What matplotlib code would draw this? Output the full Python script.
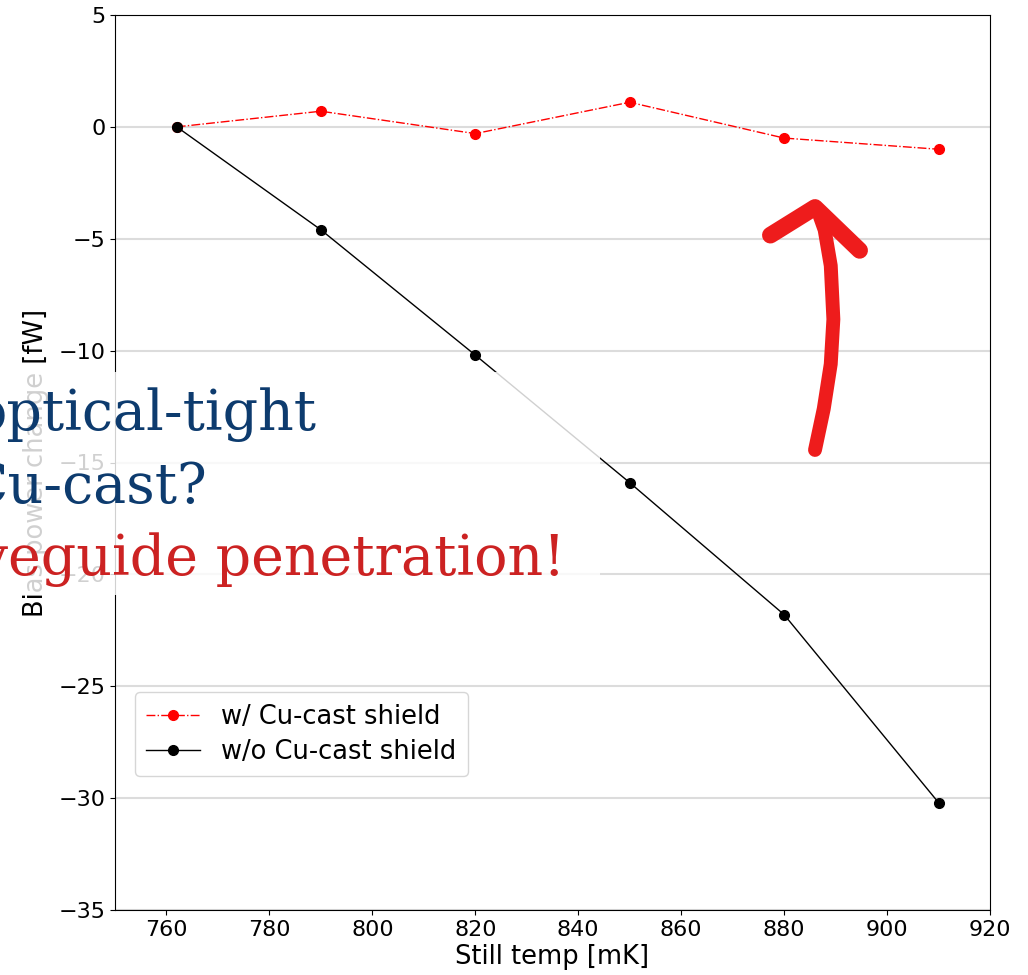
import matplotlib.pyplot as plt
from matplotlib.patches import Rectangle

# datos
still_temp = [762, 790, 820, 850, 880, 910]
con_cu = [0.0, 0.7, -0.3, 1.1, -0.5, -1.0]
sin_cu = [0.0, -4.6, -10.2, -15.9, -21.8, -30.2]

xticks = [760, 780, 800, 820, 840, 860, 880, 900, 920]
yticks = [5, 0, -5, -10, -15, -20, -25, -30, -35]

plt.rcParams['font.family'] = ['DejaVu Sans']

fig = plt.figure(figsize=(10.28, 9.75), dpi=100)
ax = fig.add_axes([115 / 1028, 1 - 910 / 975, 875 / 1028, 895 / 975])

ax.plot(still_temp, con_cu, '-.', color='red', marker='o', markersize=7,
        linewidth=1.0, label='w/ Cu-cast shield', zorder=3)
ax.plot(still_temp, sin_cu, '-', color='black', marker='o', markersize=7,
        linewidth=1.0, label='w/o Cu-cast shield', zorder=3)

ax.set_xlim(750, 920)
ax.set_ylim(-35, 5)
ax.set_xticks(xticks)
ax.set_yticks(yticks)
ax.tick_params(labelsize=16)
ax.yaxis.grid(True, color='#dcdcdc', linewidth=1.5)
ax.set_axisbelow(True)
ax.set_xlabel('Still temp [mK]', fontsize=18.5, labelpad=3)
ax.set_ylabel('Bias power change [fW]', fontsize=18.5, labelpad=7)

ax.legend(loc='lower left', bbox_to_anchor=(0.008, 0.135), fontsize=18.5,
          handlelength=2.1, borderpad=0.45, labelspacing=0.35)

# caja blanca semitransparente con el texto superpuesto
fig.add_artist(Rectangle((0, 1 - 595 / 975), 600 / 1028, 223 / 975,
                         transform=fig.transFigure, facecolor='white',
                         alpha=0.82, edgecolor='none', zorder=5))
fig.text(316 / 1028, 1 - 415 / 975, 'optical-tight', ha='right', va='center',
         fontsize=40, family='DejaVu Serif', color='#0d3b6e', zorder=6)
fig.text(208 / 1028, 1 - 488 / 975, 'Cu-cast?', ha='right', va='center',
         fontsize=40, family='DejaVu Serif', color='#0d3b6e', zorder=6)
fig.text(565 / 1028, 1 - 560 / 975, 'waveguide penetration!', ha='right', va='center',
         fontsize=40, family='DejaVu Serif', color='#cc2222', zorder=6)

# flecha roja dibujada a mano (en fraccion de ejes)
flecha_x = [0.800, 0.810, 0.818, 0.821, 0.818, 0.811, 0.803]
flecha_y = [0.514, 0.560, 0.610, 0.660, 0.720, 0.760, 0.782]
punta_x = [0.749, 0.800, 0.851]
punta_y = [0.754, 0.785, 0.737]
ax.plot(flecha_x, flecha_y, color='#ee1c1c', linewidth=10,
        solid_capstyle='round', solid_joinstyle='round',
        transform=ax.transAxes, zorder=4)
ax.plot(punta_x, punta_y, color='#ee1c1c', linewidth=12,
        solid_capstyle='round', solid_joinstyle='round',
        transform=ax.transAxes, zorder=4)

fig.savefig('out.png', dpi=100)
